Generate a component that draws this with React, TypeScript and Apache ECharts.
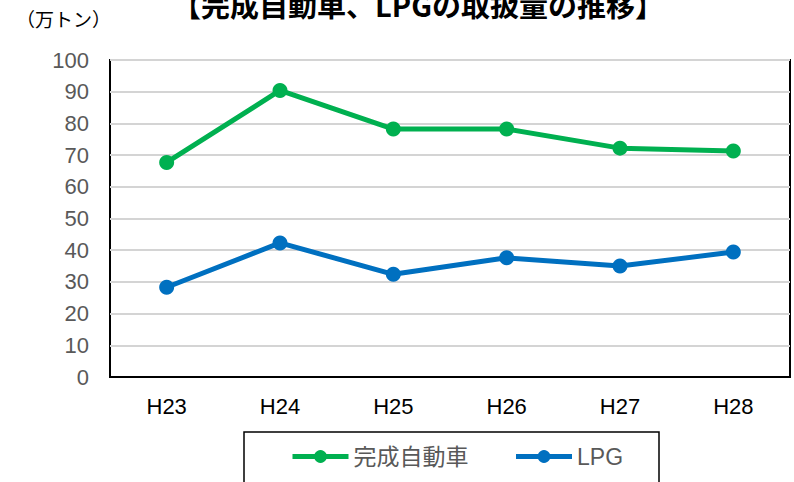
import React, { useEffect, useRef } from "react";
import * as echarts from "echarts";

const categories = ["H23", "H24", "H25", "H26", "H27", "H28"];
const carValues = [67.7, 90.4, 78.2, 78.2, 72.2, 71.3];
const lpgValues = [28.3, 42.3, 32.4, 37.6, 35.0, 39.4];
const seriesNames = ["完成自動車", "LPG"];
const titleText = "【完成自動車、LPGの取扱量の推移】";
const unitText = "（万トン）";

const LATIN = "'Liberation Sans', Arial, 'Noto Sans CJK JP', sans-serif";
const CJK = "'Noto Sans CJK JP', 'Liberation Sans', sans-serif";

export default function App() {
  const ref = useRef<HTMLDivElement>(null);
  useEffect(() => {
    if (!ref.current) return;
    const chart = echarts.init(ref.current, undefined, { renderer: "svg" });
    chart.setOption({
      animation: false,
      backgroundColor: "#ffffff",
      textStyle: { fontFamily: LATIN },
      grid: {
        left: 110,
        right: 4,
        top: 60,
        bottom: 105,
        show: true,
        borderColor: "#000000",
        borderWidth: 2,
        backgroundColor: "transparent",
      },
      xAxis: {
        type: "category",
        data: categories,
        boundaryGap: true,
        axisLine: { show: true, lineStyle: { color: "#000000", width: 2 } },
        axisTick: { show: false },
        axisLabel: { color: "#000000", fontSize: 22, margin: 18, fontFamily: LATIN },
        splitLine: { show: false },
      },
      yAxis: {
        type: "value",
        min: 0,
        max: 100,
        interval: 10,
        axisLine: { show: false },
        axisTick: { show: false },
        axisLabel: { color: "#595959", fontSize: 22, margin: 21, fontFamily: LATIN },
        splitLine: { show: true, lineStyle: { color: "#d4d4d4", width: 2 } },
      },
      legend: {
        show: true,
        left: 290,
        top: 445,
        padding: 0,
        itemWidth: 56,
        itemHeight: 16,
        itemGap: 45,
        lineStyle: { width: 5 },
        textStyle: { color: "#595959", fontSize: 23, fontFamily: LATIN },
        data: seriesNames,
      },
      graphic: [
        {
          type: "rect",
          shape: { x: 244, y: 432, width: 415, height: 60 },
          style: { fill: "#ffffff", stroke: "#000000", lineWidth: 1.5 },
          z: -1,
        },
        {
          type: "text",
          x: 418,
          y: -11,
          style: {
            text: titleText,
            fill: "#000000",
            font: "bold 29px " + CJK,
            textAlign: "center",
            textVerticalAlign: "top",
          },
        },
        {
          type: "text",
          x: 16,
          y: 9,
          style: {
            text: unitText,
            fill: "#000000",
            font: "19px " + CJK,
            textAlign: "left",
            textVerticalAlign: "top",
          },
        },
      ],
      series: [
        {
          name: seriesNames[0],
          type: "line",
          data: carValues,
          symbol: "circle",
          symbolSize: 15,
          lineStyle: { color: "#00B050", width: 5 },
          itemStyle: { color: "#00B050" },
          z: 3,
        },
        {
          name: seriesNames[1],
          type: "line",
          data: lpgValues,
          symbol: "circle",
          symbolSize: 15,
          lineStyle: { color: "#0070C0", width: 5 },
          itemStyle: { color: "#0070C0" },
          z: 3,
        },
      ],
    });
    return () => chart.dispose();
  }, []);
  return (
    <div
      ref={ref}
      style={{ position: "fixed", left: 0, top: 0, width: 794, height: 482 }}
    />
  );
}
